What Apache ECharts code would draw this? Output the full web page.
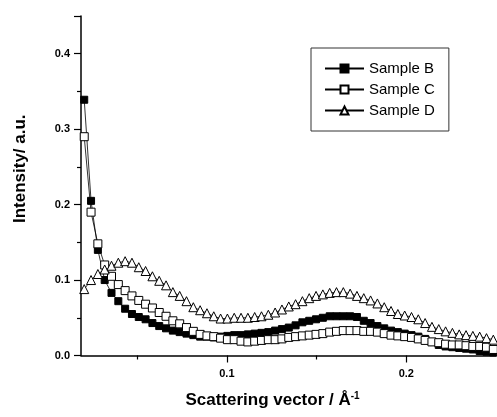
<!DOCTYPE html>
<html>
<head>
<meta charset="utf-8">
<script src="https://cdn.jsdelivr.net/npm/echarts@6/dist/echarts.min.js"></script>
<style>
  html, body { margin: 0; padding: 0; background: #fff; }
  #chartsBox { width: 497px; height: 417px; }
</style>
</head>
<body>
<div id="chartsBox"></div>
<script>
// scattering vector (1/A)
var qValues = [
    0.0205, 0.0243, 0.0281, 0.0319, 0.0357, 0.0395, 0.0433, 0.0471, 0.0509, 0.0547,
    0.0585, 0.0623, 0.0661, 0.0699, 0.0737, 0.0775, 0.0813, 0.0851, 0.0889, 0.0927,
    0.0965, 0.1003, 0.1041, 0.1079, 0.1117, 0.1155, 0.1193, 0.1231, 0.1269, 0.1307,
    0.1345, 0.1383, 0.1421, 0.1459, 0.1497, 0.1535, 0.1573, 0.1611, 0.1649, 0.1687,
    0.1725, 0.1763, 0.1801, 0.1839, 0.1877, 0.1915, 0.1953, 0.1991, 0.2029, 0.2067,
    0.2105, 0.2143, 0.2181, 0.2219, 0.2257, 0.2295, 0.2333, 0.2371, 0.2409, 0.2447, 0.2485
];
// intensity, a.u.
var sampleB = [
    0.339, 0.205, 0.140, 0.100, 0.083, 0.072, 0.062, 0.055, 0.051, 0.048,
    0.043, 0.039, 0.036, 0.033, 0.031, 0.029, 0.027, 0.025, 0.025, 0.024,
    0.025, 0.026, 0.027, 0.027, 0.028, 0.029, 0.030, 0.031, 0.033, 0.035,
    0.037, 0.040, 0.044, 0.046, 0.048, 0.050, 0.052, 0.052, 0.052, 0.052,
    0.051, 0.046, 0.043, 0.039, 0.036, 0.033, 0.031, 0.029, 0.027, 0.025,
    0.022, 0.018, 0.014, 0.012, 0.011, 0.010, 0.009, 0.008, 0.006, 0.005, 0.004
];
var sampleC = [
    0.290, 0.190, 0.148, 0.120, 0.105, 0.094, 0.086, 0.079, 0.073, 0.068,
    0.063, 0.057, 0.052, 0.046, 0.042, 0.037, 0.032, 0.028, 0.026, 0.025,
    0.023, 0.021, 0.021, 0.019, 0.018, 0.019, 0.020, 0.021, 0.021, 0.022,
    0.024, 0.025, 0.026, 0.027, 0.028, 0.029, 0.031, 0.032, 0.033, 0.033,
    0.033, 0.032, 0.032, 0.031, 0.029, 0.027, 0.026, 0.025, 0.024, 0.022,
    0.020, 0.018, 0.017, 0.015, 0.014, 0.014, 0.013, 0.012, 0.012, 0.011, 0.008
];
var sampleD = [
    0.088, 0.100, 0.108, 0.114, 0.119, 0.123, 0.125, 0.123, 0.117, 0.112,
    0.105, 0.099, 0.093, 0.084, 0.079, 0.072, 0.064, 0.060, 0.056, 0.052,
    0.049, 0.049, 0.050, 0.050, 0.050, 0.051, 0.052, 0.054, 0.057, 0.061,
    0.065, 0.068, 0.072, 0.076, 0.079, 0.081, 0.083, 0.084, 0.084, 0.082,
    0.079, 0.076, 0.073, 0.069, 0.064, 0.059, 0.055, 0.053, 0.051, 0.048,
    0.043, 0.038, 0.035, 0.032, 0.030, 0.028, 0.027, 0.026, 0.025, 0.023, 0.021
];
var xLabelValues = [0.1, 0.2];
var xMinorValues = [0.05, 0.15];

//组装成 [x, y] 点
function toPairs(xs, ys) {
    var out = [];
    for (var i = 0; i < xs.length; i++) {
        out.push([xs[i], ys[i]]);
    }
    return out;
}

var font = 'Liberation Sans, Arial, sans-serif';

function makeSeries(name, data, symbol, size, fill) {
    return {
        name: name,
        type: 'line',
        data: toPairs(qValues, data),
        symbol: symbol,
        symbolSize: size,
        showSymbol: true,
        showAllSymbol: true,
        lineStyle: { color: '#000', width: 0.8 },
        itemStyle: { color: fill, borderColor: '#000', borderWidth: 1 },
        emphasis: { disabled: true },
        animation: false
    };
}

var chart = echarts.init(document.getElementById('chartsBox'));
chart.setOption({
    animation: false,
    backgroundColor: '#fff',
    grid: { left: 81, right: 1, top: 16, bottom: 61.5, containLabel: false },
    legend: {
        orient: 'vertical',
        left: 311,
        top: 48,
        padding: [10, 14, 10, 13],
        borderColor: '#333',
        borderWidth: 1,
        itemWidth: 39,
        itemHeight: 10,
        itemGap: 0,
        textStyle: { fontFamily: font, fontSize: 15, color: '#000', lineHeight: 21 },
        data: ['Sample B', 'Sample C', 'Sample D']
    },
    xAxis: [{
        type: 'value',
        min: 0.0187,
        max: 0.25,
        position: 'bottom',
        splitLine: { show: false },
        axisLine: { lineStyle: { color: '#000', width: 1.5 } },
        axisTick: { inside: false, length: 7, customValues: xLabelValues, lineStyle: { color: '#000', width: 1.2 } },
        axisLabel: {
            customValues: xLabelValues,
            margin: 13,
            fontFamily: font, fontSize: 11, fontWeight: 'bold', color: '#000',
            formatter: function (v) { return v.toFixed(1); }
        },
        name: 'Scattering vector / Å{sup|-1}',
        nameLocation: 'middle',
        nameGap: 36,
        nameTextStyle: {
            fontFamily: font, fontSize: 17, fontWeight: 'bold', color: '#000',
            padding: [0, 32, 0, 0],
            rich: { sup: { fontFamily: font, fontSize: 10, fontWeight: 'bold', color: '#000', verticalAlign: 'top', padding: [0, 0, 8, 0] } }
        }
    }, {
        //次刻度
        type: 'value',
        min: 0.0187,
        max: 0.25,
        position: 'bottom',
        splitLine: { show: false },
        axisLine: { show: false },
        axisTick: { inside: false, length: 4, customValues: xMinorValues, lineStyle: { color: '#000', width: 1.2 } },
        axisLabel: { show: false }
    }],
    yAxis: {
        type: 'value',
        min: 0,
        max: 0.45,
        interval: 0.1,
        splitLine: { show: false },
        axisLine: { lineStyle: { color: '#000', width: 1.5 } },
        axisTick: { inside: false, length: 7, lineStyle: { color: '#000', width: 1.2 } },
        minorTick: { show: true, splitNumber: 2, length: 4, lineStyle: { color: '#000', width: 1.2 } },
        axisLabel: {
            margin: 11,
            showMaxLabel: false,
            fontFamily: font, fontSize: 11, fontWeight: 'bold', color: '#000',
            formatter: function (v) { return v.toFixed(1); }
        },
        name: 'Intensity/ a.u.',
        nameLocation: 'middle',
        nameGap: 52,
        nameTextStyle: {
            fontFamily: font, fontSize: 17, fontWeight: 'bold', color: '#000',
            padding: [0, 0, 0, 34]
        }
    },
    series: [
        makeSeries('Sample B', sampleB, 'rect', 7, '#000'),
        makeSeries('Sample C', sampleC, 'rect', 8, '#fff'),
        makeSeries('Sample D', sampleD, 'triangle', 9, '#fff')
    ]
});
</script>
</body>
</html>
